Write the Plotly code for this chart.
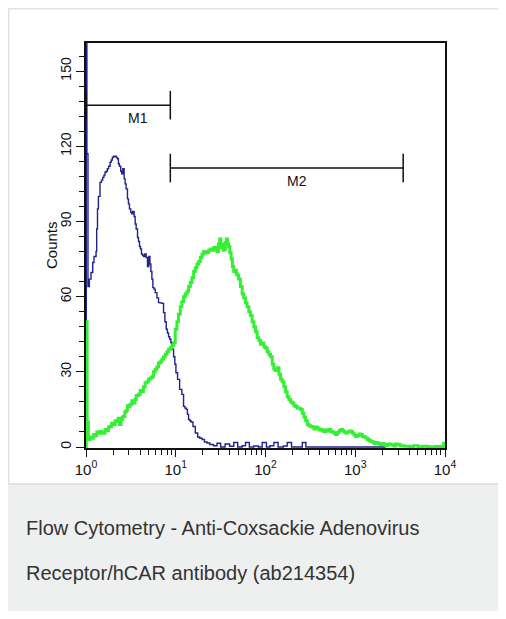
import math
import plotly.graph_objects as go

# ---------------- data ----------------
# log10 of fluorescence intensity and counts, control (blue) histogram
blue_log10 = [0.000, 0.003, 0.010, 0.022, 0.037, 0.056, 0.075, 0.089, 0.112, 0.119, 0.128, 0.138,
              0.156, 0.172, 0.186, 0.200, 0.212, 0.225, 0.238, 0.252, 0.268, 0.281, 0.294, 0.309,
              0.324, 0.337, 0.350, 0.361, 0.372, 0.387, 0.398, 0.410, 0.425, 0.436, 0.447, 0.462,
              0.473, 0.484, 0.499, 0.510, 0.520, 0.536, 0.548, 0.559, 0.574, 0.585, 0.596, 0.607,
              0.618, 0.630, 0.641, 0.655, 0.670, 0.685, 0.700, 0.712, 0.723, 0.734, 0.745, 0.758,
              0.771, 0.790, 0.808, 0.826, 0.845, 0.864, 0.879, 0.894, 0.907, 0.920, 0.933, 0.946,
              0.961, 0.976, 0.990, 1.002, 1.020, 1.043, 1.068, 1.087, 1.102, 1.117, 1.130, 1.143,
              1.157, 1.170, 1.192, 1.218, 1.244, 1.268, 1.293, 1.320, 1.348, 1.380, 1.420, 1.460,
              1.500, 1.550, 1.600, 1.646, 1.690, 1.740, 1.777, 1.820, 1.870, 1.920, 1.963, 2.010,
              2.050, 2.093, 2.140, 2.200, 2.242, 2.290, 2.350, 2.410, 2.450, 2.600, 2.800, 3.000,
              3.200, 3.340]
blue_counts = [0, 240, 117, 64, 67, 69.6, 73.6, 76, 78, 87, 95, 100,
               105.6, 106.5, 107.6, 108.5, 109.6, 110, 111, 112, 113.6, 114.5, 115.6, 116,
               116, 115.5, 115, 113, 112, 110, 109, 111, 107, 105, 103, 99,
               97, 95, 93.6, 93, 94, 92, 89, 87, 83.6, 82, 80, 79,
               77, 76.5, 76, 77, 75.6, 72, 76, 73, 70, 67, 63.6, 63,
               61.6, 59.5, 57.6, 57.5, 57.3, 53.6, 50, 47, 45.5, 44, 43, 41.6,
               39, 36, 33, 29.6, 27, 23, 21, 16.2, 15.5, 15, 13, 11,
               10.5, 10, 8.2, 5.6, 4, 3.5, 3, 2, 1.6, 1, 0.5, 1.5,
               0, 1.2, 0.3, 1.8, 0, 0.5, 1.8, 0, 0.4, 0, 1.8, 0,
               0.5, 1.8, 0, 0.4, 1.8, 0, 0, 1.8, 0, 0, 0, 0,
               0, 0]

# anti-hCAR stained (green) histogram
green_log10 = [0.000, 0.003, 0.012, 0.026, 0.045, 0.065, 0.085, 0.100, 0.120, 0.138, 0.156, 0.175,
               0.194, 0.212, 0.230, 0.250, 0.268, 0.285, 0.305, 0.325, 0.343, 0.358, 0.372, 0.390,
               0.405, 0.417, 0.432, 0.447, 0.460, 0.473, 0.490, 0.510, 0.529, 0.545, 0.560, 0.585,
               0.604, 0.622, 0.640, 0.659, 0.678, 0.696, 0.715, 0.734, 0.752, 0.771, 0.790, 0.808,
               0.827, 0.845, 0.864, 0.883, 0.901, 0.920, 0.939, 0.958, 0.976, 0.994, 1.013, 1.030,
               1.050, 1.068, 1.087, 1.105, 1.125, 1.143, 1.162, 1.180, 1.199, 1.218, 1.236, 1.255,
               1.274, 1.292, 1.311, 1.330, 1.348, 1.366, 1.385, 1.404, 1.423, 1.441, 1.460, 1.475,
               1.490, 1.503, 1.516, 1.530, 1.542, 1.553, 1.564, 1.577, 1.590, 1.603, 1.617, 1.631,
               1.646, 1.661, 1.676, 1.688, 1.700, 1.720, 1.740, 1.758, 1.777, 1.795, 1.814, 1.832,
               1.851, 1.870, 1.889, 1.907, 1.926, 1.944, 1.963, 1.982, 2.000, 2.019, 2.038, 2.056,
               2.075, 2.093, 2.112, 2.130, 2.150, 2.168, 2.186, 2.205, 2.224, 2.242, 2.261, 2.280,
               2.300, 2.317, 2.335, 2.354, 2.372, 2.391, 2.410, 2.428, 2.447, 2.466, 2.485, 2.503,
               2.520, 2.540, 2.559, 2.577, 2.596, 2.615, 2.633, 2.652, 2.670, 2.689, 2.708, 2.727,
               2.745, 2.764, 2.782, 2.801, 2.820, 2.838, 2.857, 2.875, 2.894, 2.913, 2.932, 2.950,
               2.968, 2.987, 3.005, 3.024, 3.043, 3.061, 3.080, 3.099, 3.117, 3.136, 3.155, 3.173,
               3.192, 3.210, 3.229, 3.247, 3.266, 3.285, 3.303, 3.322, 3.340, 3.360, 3.380, 3.400,
               3.430, 3.450, 3.470, 3.500, 3.545, 3.600, 3.650, 3.700, 3.750, 3.800, 3.850, 3.900,
               3.950, 3.985, 4.000]
green_counts = [0, 50, 10, 3, 4, 3.5, 5, 4.5, 6, 5.5, 6.2, 5.5,
                5.6, 7, 6.5, 8, 8.2, 9.5, 9, 10.5, 10.2, 11.5, 9, 11,
                12, 12.2, 14, 14.5, 16.5, 16.2, 17, 18.5, 17.6, 19, 20.5, 21,
                22.5, 22, 24, 25.6, 26, 27, 27.5, 28, 30, 31, 32, 33.5,
                34, 35, 36, 37, 38, 39, 39.6, 40.5, 41.6, 47, 50, 53,
                56, 58, 60, 61, 62, 64, 65.6, 67.5, 70, 71.5, 73, 74,
                75.6, 77, 78, 77.5, 77.6, 78.5, 79, 78.5, 79.6, 79, 78, 81,
                83, 79.5, 81, 78.5, 79, 81.5, 83, 81, 80, 77.5, 75, 72,
                70, 70.5, 69, 68.5, 67, 64, 61, 59.5, 57.6, 56, 54, 52.5,
                50, 48, 46, 43.6, 42.5, 41, 41.5, 40, 39.5, 38, 37, 36,
                33, 31, 30.5, 31.6, 29, 27, 26, 24, 22, 20, 19, 18,
                17.5, 16.5, 16.2, 15.5, 15.5, 15, 13.5, 12, 10.5, 9, 8.5, 8.2,
                8, 7.2, 8, 7.6, 6.8, 7, 6.5, 6.2, 6.8, 6.4, 7, 6.2,
                6, 5.5, 5, 5.8, 6.5, 7, 6.5, 6, 5.6, 6, 6.4, 6.2,
                5.5, 4.8, 4.2, 4.6, 5.2, 5, 4.2, 4, 3.6, 3, 2.6, 2.2,
                2, 1.4, 1.8, 1.6, 1.2, 1, 1.4, 0.9, 0.6, 1, 1.2, 0.9,
                0.4, 1.2, 1, 0.5, 0.3, 0.2, 0.5, 0.1, 0.3, 0.1, 0, 0.2,
                0.1, 1.5, 2]

# marker gates
gate_names = ["M1", "M2"]
gate_low = [1.0, 8.7]
gate_high = [8.7, 3420.0]
gate_counts = [136.4, 111.3]

# axis ticks
y_ticks = [0, 30, 60, 90, 120, 150]
x_ticks = [1, 10, 100, 1000, 10000]
x_ticktext = ["10<sup>0</sup>", "10<sup>1</sup>", "10<sup>2</sup>", "10<sup>3</sup>", "10<sup>4</sup>"]

caption_lines = ["Flow Cytometry - Anti-Coxsackie Adenovirus",
                 "Receptor/hCAR antibody (ab214354)"]

# ---------------- figure ----------------
# the page body has an 8px default margin; the figure starts at (8, 8)
OFF = 8
W, H = 506 - OFF, 619 - 2 * OFF
PL, PR, PT, PB = 86, 445, 43, 448          # plot area in page pixels
ML, MR, MT, MB = PL - OFF, (OFF + W) - PR, PT - OFF, (OFF + H) - PB
PW, PH = PR - PL, PB - PT


def px_x(p):
    return (p - PL) / PW


def px_y(p):
    return (PB - p) / PH


FONT = "Liberation Sans, Arial, Helvetica, sans-serif"

fig = go.Figure()

fig.add_trace(go.Scatter(
    x=[10 ** v for v in blue_log10], y=blue_counts, mode="lines",
    line=dict(color="#22228c", width=1.4, shape="hv"), showlegend=False, hoverinfo="skip"))
fig.add_trace(go.Scatter(
    x=[10 ** v for v in green_log10], y=green_counts, mode="lines",
    line=dict(color="#35ef35", width=3, shape="hv"), showlegend=False, hoverinfo="skip"))

CAP = 5.7
gx, gy = [], []
for lo, hi, c in zip(gate_low, gate_high, gate_counts):
    gx += [lo, hi, None, lo, lo, None, hi, hi, None]
    gy += [c, c, None, c - CAP, c + CAP, None, c - CAP, c + CAP, None]
fig.add_trace(go.Scatter(x=gx, y=gy, mode="lines", line=dict(color="#111", width=1.5),
                         showlegend=False, hoverinfo="skip"))

annotations = []
for name, lo, hi, c in zip(gate_names, gate_low, gate_high, gate_counts):
    annotations.append(dict(
        x=(math.log10(lo) + math.log10(hi)) / 2 + 0.11, y=c - 5.2, xref="x", yref="y",
        text=name, showarrow=False, font=dict(family=FONT, size=14, color="#111"),
        xanchor="center", yanchor="middle"))

annotations.append(dict(x=px_x(51), y=px_y(245), xref="paper", yref="paper", text="Counts",
                        textangle=-90, showarrow=False,
                        font=dict(family=FONT, size=15, color="#111"),
                        xanchor="center", yanchor="middle"))

for i, line in enumerate(caption_lines):
    annotations.append(dict(x=px_x(24), y=px_y(528 + 45 * i), xref="paper", yref="paper",
                            text=line, showarrow=False, xanchor="left", yanchor="middle",
                            font=dict(family=FONT, size=20, color="#333")))

shapes = [
    dict(type="rect", xref="paper", yref="paper", x0=px_x(OFF), x1=px_x(530),
         y0=px_y(640), y1=px_y(484), fillcolor="#eeefef", line=dict(width=0), layer="below"),
    dict(type="rect", xref="paper", yref="paper", x0=px_x(OFF + 0.5), x1=px_x(530),
         y0=px_y(484), y1=px_y(OFF + 0.5), fillcolor="rgba(0,0,0,0)",
         line=dict(color="#e2e2e2", width=2), layer="below"),
]

fig.update_layout(
    width=W, height=H, margin=dict(l=ML, r=MR, t=MT, b=MB),
    paper_bgcolor="white", plot_bgcolor="white",
    font=dict(family=FONT, color="#111"),
    annotations=annotations, shapes=shapes,
    xaxis=dict(type="log", range=[0, 4], tickmode="array", tickvals=x_ticks, ticktext=x_ticktext,
               ticks="outside", ticklen=7, tickwidth=1.3, tickcolor="#111",
               showline=True, linecolor="#111", linewidth=1.5, mirror=True,
               showgrid=False, zeroline=False, layer="below traces",
               tickfont=dict(family=FONT, size=15, color="#111"),
               minor=dict(ticks="outside", ticklen=5, tickwidth=1.2, tickcolor="#111",
                          tickvals=[m * 10 ** d for d in range(4) for m in range(2, 10)],
                          showgrid=False)),
    yaxis=dict(range=[-0.4, 161.2], tickmode="array", tickvals=y_ticks, tickangle=-90,
               ticks="outside", ticklen=8, tickwidth=1.3, tickcolor="#111",
               showline=True, linecolor="#111", linewidth=1.5, mirror=True,
               showgrid=False, zeroline=False, layer="below traces",
               tickfont=dict(family=FONT, size=14, color="#111"),
               minor=dict(ticks="outside", ticklen=5, tickwidth=1.2, tickcolor="#111",
                          dtick=6, showgrid=False)),
)

fig.write_html("out.html")
